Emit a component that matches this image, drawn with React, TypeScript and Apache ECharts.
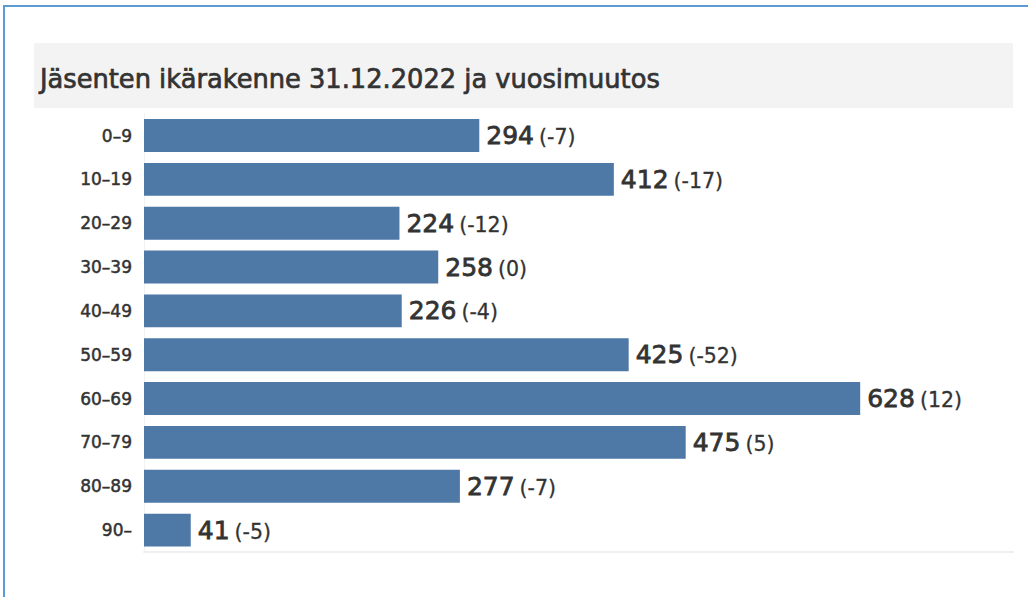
import React, { useEffect, useRef } from "react";
import * as echarts from "echarts";

const categories = ["0–9", "10–19", "20–29", "30–39", "40–49", "50–59", "60–69", "70–79", "80–89", "90–"];
const members = [294, 412, 224, 258, 226, 425, 628, 475, 277, 41];
const changes = ["(-7)", "(-17)", "(-12)", "(0)", "(-4)", "(-52)", "(12)", "(5)", "(-7)", "(-5)"];
const titleText = "Jäsenten ikärakenne 31.12.2022 ja vuosimuutos";

export default function App() {
  const ref = useRef<HTMLDivElement>(null);
  useEffect(() => {
    const chart = echarts.init(ref.current!, null, { renderer: "svg" });
    chart.setOption({
      animation: false,
      backgroundColor: "#ffffff",
      textStyle: { fontFamily: "DejaVu Sans" },
      graphic: [
        {
          type: "rect",
          shape: { x: 4, y: 6, width: 1100, height: 700 },
          style: { fill: "none", stroke: "#5b9bd5", lineWidth: 2 },
          silent: true,
        },
        {
          type: "rect",
          shape: { x: 34, y: 43, width: 979, height: 65 },
          style: { fill: "#f3f3f3" },
          silent: true,
        },
        {
          type: "text",
          x: 40,
          y: 79,
          style: {
            text: titleText,
            fill: "#333333",
            font: "normal 25.7px 'DejaVu Sans'",
            verticalAlign: "middle",
            stroke: "#333333",
            lineWidth: 0.7,
          },
          silent: true,
        },
      ],
      grid: { left: 144, right: 15, top: 113.6, bottom: 45, containLabel: false },
      xAxis: {
        type: "value",
        min: 0,
        max: 762,
        axisLabel: { show: false },
        axisTick: { show: false },
        splitLine: { show: false },
        axisLine: { show: true, lineStyle: { color: "#efefef", width: 2 } },
      },
      yAxis: {
        type: "category",
        inverse: true,
        data: categories,
        axisTick: { show: false },
        axisLine: { show: true, lineStyle: { color: "#f2f2f2", width: 1 } },
        axisLabel: {
          margin: 12,
          color: "#333333",
          fontSize: 17,
          fontFamily: "DejaVu Sans",
          textBorderColor: "#333333",
          textBorderWidth: 0.5,
        },
      },
      series: [
        {
          type: "bar",
          data: members,
          barCategoryGap: "25%",
          itemStyle: { color: "#4e79a7" },
          label: {
            show: true,
            position: "right",
            distance: 7,
            formatter: (p: any) => `{v|${p.value}}{c|${changes[p.dataIndex]}}`,
            rich: {
              v: {
                fontSize: 25,
                color: "#333333",
                fontFamily: "DejaVu Sans",
                textBorderColor: "#333333",
                textBorderWidth: 0.8,
              },
              c: {
                fontSize: 20.5,
                color: "#333333",
                fontFamily: "DejaVu Sans",
                padding: [3, 0, 0, 5],
                textBorderColor: "#333333",
                textBorderWidth: 0.3,
              },
            },
          },
        },
      ],
    });
    return () => chart.dispose();
  }, []);
  return (
    <div
      ref={ref}
      style={{ position: "fixed", left: 0, top: 0, width: 1028, height: 597 }}
    />
  );
}
